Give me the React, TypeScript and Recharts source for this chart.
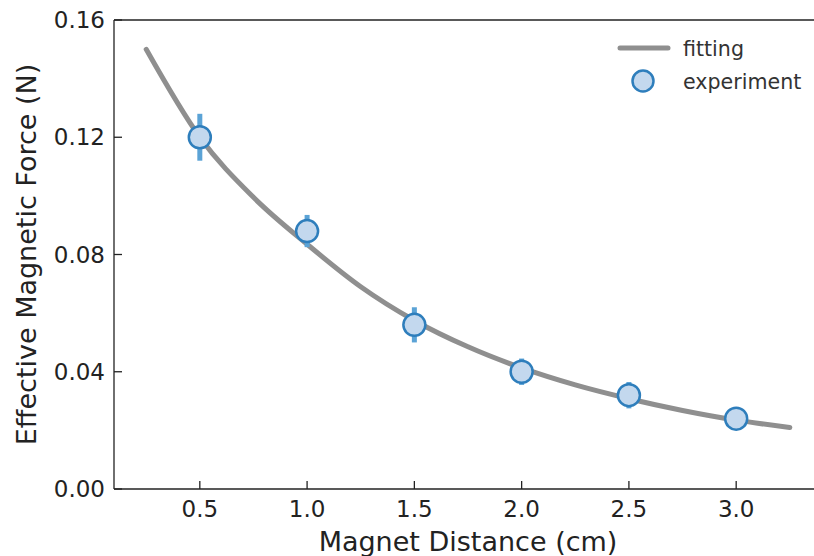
import {
  ComposedChart, Line, Scatter, ErrorBar, XAxis, YAxis, Legend, ReferenceLine
} from "recharts"

const FONT = "'DejaVu Sans', sans-serif"
const INK = "#222"

// measured points (distance in cm, force in N)
const distances = [0.5, 1.0, 1.5, 2.0, 2.5, 3.0]
const forces = [0.12, 0.088, 0.056, 0.04, 0.032, 0.024]
const forceErrors = [0.008, 0.0055, 0.006, 0.0045, 0.0045, 0.003]

// fitted curve
const fitDistances = [0.25, 0.5, 0.75, 1.0, 1.25, 1.5, 1.75, 2.0, 2.25, 2.5, 2.75, 3.0, 3.25]
const fitForces = [0.15, 0.12, 0.0995, 0.0835, 0.069, 0.0575, 0.0485, 0.0413, 0.0355, 0.0308, 0.0268, 0.0235, 0.021]

const xTicks = [0.5, 1.0, 1.5, 2.0, 2.5, 3.0]
const yTicks = [0, 0.04, 0.08, 0.12, 0.16]

const experiment = distances.map((x, i) => ({ x, y: forces[i], err: forceErrors[i] }))
const fitting = fitDistances.map((x, i) => ({ x, y: fitForces[i] }))

function XTick({ x, y, payload }: any) {
  return (
    <g>
      <line x1={x} x2={x} y1={y} y2={y - 8} stroke={INK} strokeWidth={1.3} />
      <text x={x} y={y + 28} textAnchor="middle" fontSize={23} fill={INK} fontFamily={FONT}>
        {Number(payload.value).toFixed(1)}
      </text>
    </g>
  )
}

function YTick({ x, y, payload }: any) {
  return (
    <g>
      <line x1={x} x2={x + 8} y1={y} y2={y} stroke={INK} strokeWidth={1.3} />
      <text x={x - 9} y={y + 8} textAnchor="end" fontSize={23} fill={INK} fontFamily={FONT}>
        {Number(payload.value).toFixed(2)}
      </text>
    </g>
  )
}

function XTitle({ viewBox }: any) {
  return (
    <text x={viewBox.x + viewBox.width / 2} y={551} textAnchor="middle" fontSize={27} fill={INK} fontFamily={FONT}>
      Magnet Distance (cm)
    </text>
  )
}

function YTitle({ viewBox }: any) {
  const cx = 26
  const cy = viewBox.y + viewBox.height / 2
  return (
    <text x={cx} y={cy} dy={10} transform={`rotate(-90 ${cx} ${cy})`} textAnchor="middle"
      fontSize={27} fill={INK} fontFamily={FONT}>
      Effective Magnetic Force (N)
    </text>
  )
}

function Dot(props: any) {
  return <circle cx={props.cx} cy={props.cy} r={11} fill="#c3d8ee" stroke="#2e7ebc" strokeWidth={2.5} />
}

function LegendBox() {
  return (
    <div style={{ fontFamily: FONT, fontSize: 20.6, color: "#333" }}>
      <div style={{ display: "flex", alignItems: "center", height: 33 }}>
        <svg width={69} height={33}>
          <line x1={6} x2={54} y1={16} y2={16} stroke="#8f8f8f" strokeWidth={5} strokeLinecap="round" />
        </svg>
        <span>fitting</span>
      </div>
      <div style={{ display: "flex", alignItems: "center", height: 33 }}>
        <svg width={69} height={33}>
          <circle cx={29} cy={16} r={10.5} fill="#c3d8ee" stroke="#2e7ebc" strokeWidth={2.5} />
        </svg>
        <span>experiment</span>
      </div>
    </div>
  )
}

export default function App() {
  return (
    <div style={{ position: "fixed", left: 0, top: 0, width: 814, height: 556, overflow: "hidden", background: "#fff", fontFamily: FONT }}>
      <ComposedChart width={830} height={556} margin={{ top: 20, right: 8, bottom: 0, left: 0 }}>
        <XAxis
          type="number" dataKey="x" domain={[0.1, 3.4]} allowDataOverflow ticks={xTicks} interval={0}
          height={67} tickSize={0} tickMargin={0} tickLine={false}
          axisLine={{ stroke: INK, strokeWidth: 1.3 }} tick={<XTick />} label={<XTitle />}
        />
        <YAxis
          type="number" dataKey="y" domain={[0, 0.16]} allowDataOverflow ticks={yTicks} interval={0}
          width={114} tickSize={0} tickMargin={0} tickLine={false}
          axisLine={{ stroke: INK, strokeWidth: 1.3 }} tick={<YTick />} label={<YTitle />}
        />
        <ReferenceLine y={0.16} stroke={INK} strokeWidth={1.3} />
        <Line data={fitting} dataKey="y" type="monotone" stroke="#8f8f8f" strokeWidth={5}
          strokeLinecap="round" dot={false} activeDot={false} isAnimationActive={false} />
        <Scatter data={experiment} dataKey="y" shape={<Dot />} isAnimationActive={false}>
          <ErrorBar dataKey="err" direction="y" width={0} stroke="#5ba3d6" strokeWidth={5} />
        </Scatter>
        <Legend layout="vertical" align="center" verticalAlign="middle" content={<LegendBox />}
          wrapperStyle={{ position: "absolute", top: 32, left: 614, width: 200 }} />
      </ComposedChart>
    </div>
  )
}
